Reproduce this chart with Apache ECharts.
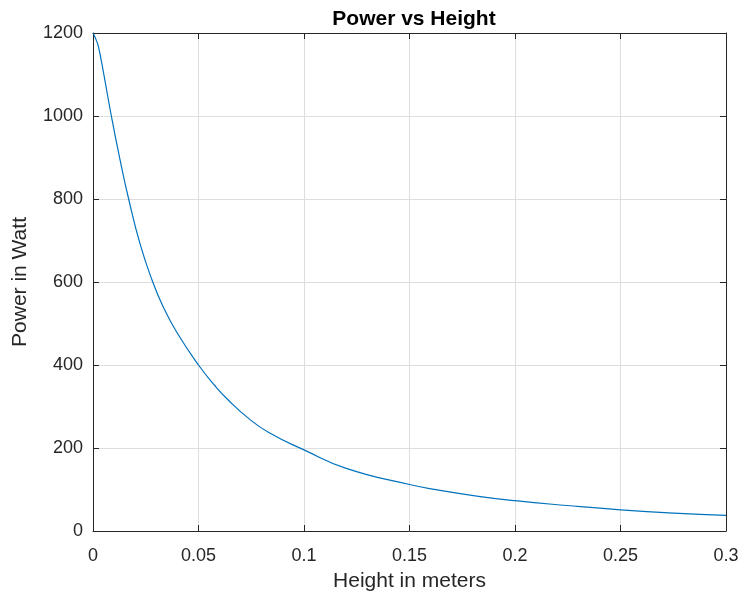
<!DOCTYPE html>
<html>
<head>
<meta charset="utf-8">
<script src="https://cdn.jsdelivr.net/npm/echarts@6/dist/echarts.min.js"></script>
<style>
  html, body { margin: 0; padding: 0; background: #ffffff; }
  #chart { width: 744px; height: 598px; }
</style>
</head>
<body>
<div id="chart"></div>
<script>
// Height above the source (m) and the power delivered (W)
const heights = [0, 0.0011, 0.0024, 0.0039, 0.0055, 0.0087, 0.0128, 0.0169, 0.0223, 0.0281,
  0.0333, 0.0397, 0.05, 0.0578, 0.0642, 0.0736, 0.0831, 0.1,
  0.12, 0.15, 0.1645, 0.1835, 0.2, 0.2246, 0.25, 0.2752, 0.3];
const powers = [1200, 1188, 1170, 1134, 1090, 1000, 895, 800, 692, 603,
  540, 479, 400, 350, 315, 272, 238, 195.5,
  151, 112, 98, 83, 73, 61.5, 51, 43, 37.5];

const xTickLabels = ['0', '0.05', '0.1', '0.15', '0.2', '0.25', '0.3'];
const yTickLabels = ['0', '200', '400', '600', '800', '1000', '1200'];

const FONT = '"Liberation Sans", Arial, Helvetica, sans-serif';
const INK = '#262626';
const GRID = '#dedede';

const points = heights.map((h, i) => [h, powers[i]]);

const xBase = { type: 'value', min: 0, max: 0.3, interval: 0.05 };
const yBase = { type: 'value', min: 0, max: 1200, interval: 200 };

const chart = echarts.init(document.getElementById('chart'), null, { renderer: 'canvas' });
chart.setOption({
  animation: false,
  backgroundColor: '#ffffff',
  title: {
    text: 'Power vs Height',
    left: 409, top: 4, textAlign: 'center',
    textStyle: { fontFamily: FONT, fontSize: 21, fontWeight: 'bold', color: '#000000' }
  },
  grid: { left: 93, right: 18, top: 33, bottom: 67, containLabel: false },
  xAxis: [
    Object.assign({}, xBase, {
      position: 'bottom',
      name: 'Height in meters', nameLocation: 'middle', nameGap: 40,
      nameTextStyle: { fontFamily: FONT, fontSize: 21, color: INK },
      axisLine: { show: true, onZero: false, lineStyle: { color: INK, width: 1 } },
      axisTick: { show: true, inside: true, length: 6, lineStyle: { color: INK } },
      axisLabel: {
        fontFamily: FONT, fontSize: 18, color: INK, margin: 16,
        formatter: (v) => xTickLabels[Math.round(v / 0.05)]
      },
      splitLine: { show: true, lineStyle: { color: GRID, width: 1 } }
    }),
    Object.assign({}, xBase, {
      position: 'top',
      axisLine: { show: true, onZero: false, lineStyle: { color: INK, width: 1 } },
      axisTick: { show: true, inside: true, length: 6, lineStyle: { color: INK } },
      axisLabel: { show: false },
      splitLine: { show: false }
    })
  ],
  yAxis: [
    Object.assign({}, yBase, {
      position: 'left',
      name: 'Power in Watt', nameLocation: 'middle', nameGap: 62, nameRotate: 90,
      nameTextStyle: { fontFamily: FONT, fontSize: 21, color: INK },
      axisLine: { show: true, onZero: false, lineStyle: { color: INK, width: 1 } },
      axisTick: { show: true, inside: true, length: 6, lineStyle: { color: INK } },
      axisLabel: {
        fontFamily: FONT, fontSize: 18, color: INK, margin: 10,
        formatter: (v) => yTickLabels[Math.round(v / 200)]
      },
      splitLine: { show: true, lineStyle: { color: GRID, width: 1 } }
    }),
    Object.assign({}, yBase, {
      position: 'right',
      axisLine: { show: true, onZero: false, lineStyle: { color: INK, width: 1 } },
      axisTick: { show: true, inside: true, length: 6, lineStyle: { color: INK } },
      axisLabel: { show: false },
      splitLine: { show: false }
    })
  ],
  series: [{
    type: 'line',
    xAxisIndex: 0, yAxisIndex: 0,
    data: points,
    smooth: 0.5,
    showSymbol: false,
    lineStyle: { color: '#0072BD', width: 1.2 },
    z: 3
  }]
});
</script>
</body>
</html>
